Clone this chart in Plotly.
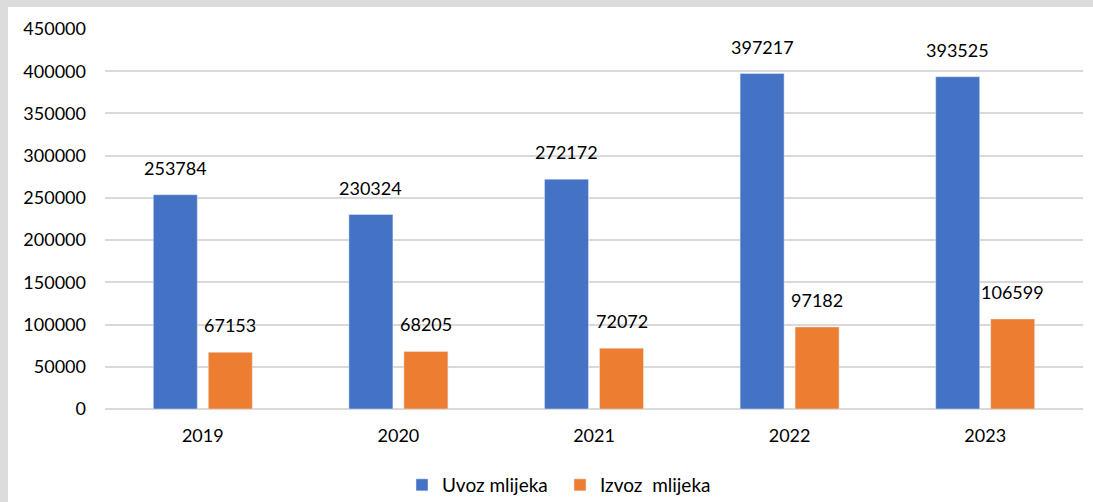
import plotly.graph_objects as go

years = ["2019", "2020", "2021", "2022", "2023"]
uvoz = [253784, 230324, 272172, 397217, 393525]
izvoz = [67153, 68205, 72072, 97182, 106599]
names = ["Uvoz mlijeka", "Izvoz  mlijeka"]
colors = ["#4472C4", "#ED7D31"]

FONT = "Lato, Carlito, Calibri, sans-serif"

fig = go.Figure()
fig.add_trace(go.Bar(x=years, y=uvoz, name=names[0], marker_color=colors[0]))
fig.add_trace(go.Bar(x=years, y=izvoz, name=names[1], marker_color=colors[1]))

anns = []
for series, shift in ((uvoz, -27.5), (izvoz, 27.5)):
    for i, v in enumerate(series):
        anns.append(dict(x=i, y=v, text=str(v), showarrow=False, xshift=shift,
                         yanchor="bottom", yshift=14,
                         font=dict(family=FONT, size=18, color="#000000")))

fig.update_layout(
    width=1093, height=502,
    margin=dict(l=105, r=10, t=29, b=93),
    paper_bgcolor="#dcdcdc",
    plot_bgcolor="#ffffff",
    barmode="group",
    bargap=0.4376,
    bargroupgap=0.2,
    font=dict(family=FONT, size=18, color="#000000"),
    xaxis=dict(type="category", range=[-0.5, 4.5], automargin=False,
               showgrid=False, showline=False, ticks="",
               ticklabelstandoff=14, tickfont=dict(size=18)),
    yaxis=dict(range=[0, 450000], dtick=50000, tickformat="d", automargin=False,
               showgrid=True, gridcolor="#d9d9d9", gridwidth=1.5,
               zeroline=True, zerolinecolor="#d9d9d9", zerolinewidth=2,
               ticks="", ticklabelstandoff=18, tickfont=dict(size=18)),
    legend=dict(orientation="h", xref="container", yref="container",
                x=402 / 1093, xanchor="left", y=1 - 485 / 502, yanchor="middle",
                entrywidth=113, entrywidthmode="pixels",
                font=dict(size=19), bgcolor="rgba(0,0,0,0)", itemclick=False),
    annotations=anns,
    shapes=[dict(type="rect", xref="paper", yref="paper",
                 x0=(8 - 105) / 978, x1=(1120 - 105) / 978,
                 y0=-(120 / 380), y1=1 + 22 / 380,
                 fillcolor="#ffffff", line=dict(width=0), layer="below")],
)

fig.write_html("out.html",
               config={"displayModeBar": False},
               post_script="document.body.style.margin='0';document.body.style.overflow='hidden';")
